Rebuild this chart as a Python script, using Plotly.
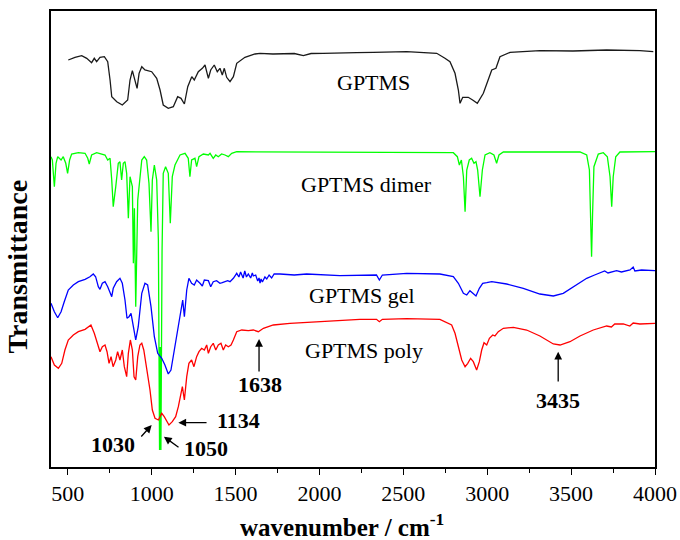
import plotly.graph_objects as go

# ---------------- data (transmittance in arbitrary, offset units) ----------------
gptms_wn = [503, 543, 583, 613, 642, 658, 672, 692, 718, 738, 752, 762, 792, 825, 857, 871, 885, 901, 913, 925,
            941, 960, 1000, 1030, 1050, 1069, 1099, 1129, 1155, 1175, 1195, 1215, 1239, 1254, 1278, 1302, 1318,
            1338, 1352, 1373, 1391, 1407, 1421, 1433, 1447, 1467, 1487, 1507, 1556, 1616, 1646, 1723, 1850, 1904,
            1950, 2021, 2122, 2222, 2321, 2520, 2699, 2718, 2748, 2778, 2808, 2828, 2838, 2854, 2887, 2913, 2941,
            2977, 3006, 3027, 3052, 3076, 3136, 3314, 3511, 3712, 3910, 3990]
gptms_t = [407, 409.7, 411.3, 408.7, 404.3, 408.7, 405.3, 409.7, 410.3, 405.3, 387, 370.3, 365.3, 362, 367, 387,
           396.3, 387, 378.7, 393.7, 400.3, 397, 395.3, 388.7, 377, 362, 358.7, 360.3, 370.3, 368.7, 363, 380.3,
           390.3, 387, 395.3, 398.7, 402, 388.7, 397, 402, 395.3, 398.7, 392, 398.7, 389.7, 385.3, 390.3, 403.7,
           409.7, 413, 413.7, 413, 413.5, 411.3, 413.5, 413.7, 413.7, 414.3, 414.7, 415.3, 413.7, 412, 408.7, 405.3,
           393.7, 377, 363.7, 369.7, 369.7, 367, 363.7, 373.7, 387, 397, 398.7, 410.3, 414.7, 416.3, 416, 417,
           416.3, 415.3]

dimer_wn = [400, 408, 420, 430, 440, 460, 473, 488, 499, 511, 523, 563, 603, 619, 628, 642, 672, 702, 722, 738,
            752, 762, 771, 786, 801, 811, 821, 831, 841, 851, 861, 871, 885, 891, 897, 905, 911, 917, 941, 956,
            970, 984, 996, 1004, 1016, 1030, 1040, 1047, 1051, 1055, 1062, 1069, 1083, 1099, 1111, 1123, 1139,
            1155, 1169, 1199, 1218, 1228, 1238, 1258, 1268, 1282, 1308, 1338, 1348, 1367, 1382, 1397, 1417, 1437,
            1457, 1477, 1507, 2798, 2822, 2834, 2846, 2858, 2868, 2878, 2893, 2907, 2921, 2933, 2943, 2957, 2971,
            2987, 3016, 3040, 3056, 3070, 3096, 3553, 3593, 3609, 3617, 3622, 3628, 3636, 3662, 3692, 3716, 3732,
            3742, 3751, 3766, 3791, 4000]
dimer_t = [310.3, 307, 280.3, 303.7, 310.3, 307, 310.3, 303.7, 293.7, 307, 313, 314.3, 313.7, 308.7, 303, 312,
           314.3, 313, 312, 307, 308.7, 287, 260.3, 280.3, 303.7, 305.3, 287, 303.7, 305.3, 293.7, 248.7, 290.3,
           280.3, 203.7, 258.7, 160.3, 217, 267, 307, 310.3, 307, 283.7, 235.3, 287, 302, 287, 227, 17, 120, 17,
           217, 293.7, 300.3, 293.7, 243.7, 290.3, 302, 307, 312, 313.7, 308.7, 290.3, 307, 308.7, 300.3, 310.3,
           313, 312, 313.7, 308.7, 312, 310.3, 313, 312, 310.3, 313.7, 315.3, 314.3, 310.3, 302, 307, 290.3,
           255.3, 297, 307, 308.7, 303.7, 305.3, 297, 270.3, 297, 312, 314.3, 312, 303.7, 312, 315, 315, 312, 297,
           253.7, 210.3, 253.7, 300.3, 313, 314.3, 310.3, 290.3, 260.3, 290.3, 310.3, 315, 315.3]

gel_wn = [400, 420, 440, 460, 479, 503, 533, 563, 603, 632, 652, 666, 682, 692, 706, 722, 738, 752, 762, 771, 791,
          811, 825, 841, 853, 865, 877, 891, 905, 920, 941, 960, 976, 996, 1016, 1036, 1060, 1079, 1099, 1115,
          1135, 1155, 1175, 1185, 1195, 1209, 1222, 1238, 1254, 1268, 1288, 1302, 1314, 1338, 1352, 1367, 1387,
          1407, 1421, 1437, 1453, 1467, 1487, 1507, 1520, 1530, 1545, 1555, 1565, 1576, 1590, 1600, 1606, 1620,
          1632, 1640, 1646, 1652, 1660, 1675, 1686, 1700, 1715, 1730, 1765, 1850, 1924, 2122, 2340, 2357, 2375,
          2520, 2718, 2798, 2828, 2858, 2878, 2897, 2913, 2933, 2953, 2973, 2997, 3027, 3116, 3215, 3314, 3394,
          3453, 3513, 3593, 3640, 3672, 3700, 3720, 3771, 3800, 3851, 3870, 3880, 3920, 4000]
gel_t = [163.7, 155.3, 149.3, 155.3, 165.3, 177, 182, 185.3, 187.7, 190.3, 193, 190.3, 180.3, 177.7, 183.7, 185.3,
         180.3, 175.3, 170.3, 178.7, 185.3, 188.7, 183.7, 167, 148.7, 150.3, 153.7, 140.3, 127, 140.3, 173.7,
         183.7, 182, 160.3, 130.3, 113.7, 108.7, 102, 93, 97, 117, 137, 160.3, 167, 150.3, 177, 188.7, 183.7, 182,
         187, 183.7, 181, 187, 186.3, 180.3, 185.3, 186.3, 183.7, 184.3, 185.3, 186.3, 185.3, 188.7, 193.7, 190,
         195, 189, 196, 190, 193, 189, 194, 191, 192, 186, 189, 184, 188, 185, 190, 188, 192, 189, 193, 193, 192,
         193, 191.3, 192, 187, 192, 193.7, 193, 190.3, 183.7, 173.7, 172, 176.3, 173.7, 171, 178.7, 183.7, 184.3,
         185.3, 183, 178.7, 173, 171, 173.7, 180.3, 188.7, 192, 194.3, 196, 194, 196.3, 195, 197, 200, 196, 197,
         196.3]

poly_wn = [400, 420, 444, 464, 483, 503, 533, 563, 603, 638, 658, 678, 692, 706, 722, 734, 746, 758, 770, 786, 797,
           811, 825, 837, 851, 861, 873, 885, 895, 905, 917, 930, 941, 953, 970, 990, 1004, 1020, 1040, 1060, 1075,
           1089, 1103, 1123, 1143, 1159, 1173, 1183, 1195, 1209, 1222, 1238, 1252, 1268, 1282, 1298, 1314, 1328,
           1338, 1352, 1367, 1382, 1397, 1413, 1427, 1441, 1457, 1473, 1487, 1507, 1537, 1576, 1606, 1636, 1666,
           1725, 1824, 1924, 2122, 2241, 2340, 2357, 2375, 2520, 2718, 2758, 2788, 2808, 2828, 2848, 2868, 2884,
           2901, 2917, 2937, 2953, 2967, 2981, 2997, 3013, 3033, 3046, 3066, 3096, 3156, 3235, 3314, 3394, 3434,
           3493, 3553, 3632, 3712, 3740, 3760, 3811, 3850, 3870, 3910, 4000]
poly_t = [110.3, 102, 98.7, 103.7, 117, 127, 132, 135.3, 137.7, 142, 133.7, 123.7, 115.3, 120.3, 122, 115.3, 103.7,
          110.3, 100.3, 107, 115.3, 107, 117, 100.3, 90.3, 113.7, 127, 117, 90.3, 87, 110.3, 122, 123.7, 117, 100.3,
          77, 57, 48.7, 47, 53.7, 50.3, 45.3, 42, 45.3, 50.3, 60.3, 73.7, 80.3, 67, 90.3, 103.7, 107, 100.3, 110.3,
          115.3, 118.7, 117, 122, 113.7, 120.3, 123.7, 117, 122, 123.7, 117, 122, 120.3, 122, 127, 135.3, 137, 136.3,
          137, 135.3, 138.7, 142, 143.7, 144.7, 146.3, 147.7, 147.7, 145.3, 147.7, 148.3, 147.7, 144.3, 142, 133.7,
          120.3, 107, 100.3, 103.7, 108.7, 105.3, 97, 105.3, 117, 124.3, 122, 128.7, 132, 131, 135.3, 138.7, 139.7,
          137, 131, 123, 122, 125.3, 131, 137, 141, 140, 143, 143, 141, 144, 143, 143.7]

labels = [
    # text, wavenumber, value
    ("GPTMS", 2325, 385),
    ("GPTMS dimer", 2280, 283),
    ("GPTMS gel", 2254, 172),
    ("GPTMS poly", 2265, 117),
]
peak_labels = [
    ("1638", 1646, 82.5),
    ("3435", 3419, 66.5),
    ("1134", 1515, 46.5),
    ("1030", 770, 22.5),
    ("1050", 1324, 19),
]
# arrows: tip (x, y) and tail (ax, ay)
arrows = [
    (1640, 128, 1640, 94),
    (3423, 115.3, 3423, 84),
    (1159, 44.3, 1336, 44.3),
    (1000, 42, 930, 29),
    (1073, 30.3, 1169, 18.7),
]
x_title = "<b>wavenumber / cm<sup>-1</sup></b>"
y_title = "<b>Transmittance</b>"

SERIF = "Liberation Serif, Times New Roman, serif"

fig = go.Figure()
for wn, t, col in [(gptms_wn, gptms_t, "#1a1a1a"), (dimer_wn, dimer_t, "#00ff00"),
                   (gel_wn, gel_t, "#0000ff"), (poly_wn, poly_t, "#ff0000")]:
    fig.add_trace(go.Scatter(x=wn, y=t, mode="lines", line=dict(color=col, width=1.3),
                             showlegend=False, hoverinfo="skip"))

ann = []
for txt, x, y in labels:
    ann.append(dict(x=x, y=y, text=txt, showarrow=False, xref="x", yref="y",
                    font=dict(family=SERIF, size=22, color="black"), xanchor="center", yanchor="middle"))
for txt, x, y in peak_labels:
    ann.append(dict(x=x, y=y, text="<b>%s</b>" % txt, showarrow=False, xref="x", yref="y",
                    font=dict(family=SERIF, size=22, color="black"), xanchor="center", yanchor="middle"))
for x, y, ax, ay in arrows:
    ann.append(dict(x=x, y=y, ax=ax, ay=ay, axref="x", ayref="y", xref="x", yref="y", text="",
                    showarrow=True, arrowhead=2, arrowsize=1.2, arrowwidth=1.3, arrowcolor="black"))
# axis titles (placed as in the reference, slightly off-centre)
ann.append(dict(x=0.482, y=-0.128, xref="paper", yref="paper", text=x_title, showarrow=False,
                xanchor="center", yanchor="middle", font=dict(family=SERIF, size=25, color="black")))
ann.append(dict(x=-0.056, y=0.44, xref="paper", yref="paper", text=y_title, showarrow=False, textangle=-90,
                xanchor="center", yanchor="middle", font=dict(family=SERIF, size=28, color="black")))

fig.update_layout(
    width=680, height=540,
    margin=dict(l=51, r=25, t=11, b=73),
    paper_bgcolor="white", plot_bgcolor="white",
    annotations=ann,
    xaxis=dict(range=[400, 4000], tick0=0, dtick=500, ticks="outside", ticklen=6, tickwidth=1.3,
               tickcolor="black", showline=True, mirror=True, linecolor="black", linewidth=1.5,
               showgrid=False, zeroline=False, automargin=False,
               tickfont=dict(family=SERIF, size=22, color="black"),
               minor=dict(dtick=250, ticks="outside", ticklen=4, tickwidth=1.2, tickcolor="black")),
    yaxis=dict(range=[0, 456], showticklabels=False, ticks="", showline=True, mirror=True,
               linecolor="black", linewidth=1.5, showgrid=False, zeroline=False, automargin=False),
)

fig.write_html("out.html")
